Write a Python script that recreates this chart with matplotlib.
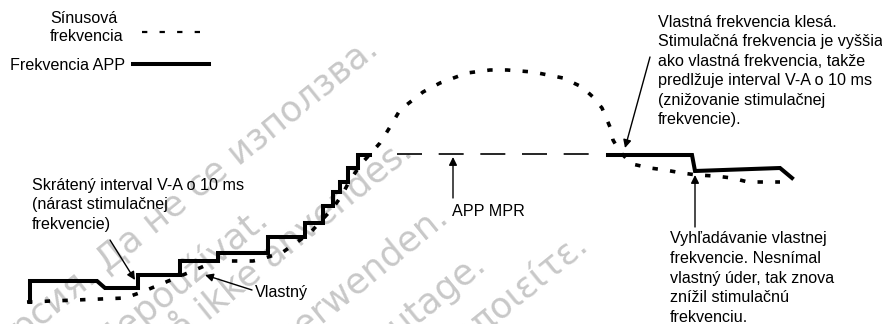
import matplotlib.pyplot as plt

# schematic drawn in image units (x to the right, y downwards)
W, H = 882, 324

# APP rate (solid staircase)
app_x = [30, 30, 97, 105, 138, 138, 180, 180, 218, 218, 268, 268, 305, 305, 323, 323,
         333, 333, 340, 340, 348, 348, 358, 358, 370]
app_y = [302, 281, 281, 288, 288, 275, 275, 261, 261, 253, 253, 237, 237, 223, 223, 206,
         206, 192, 192, 182, 182, 168, 168, 155, 155]
app2_x = [608, 692, 695, 780, 792]
app2_y = [155, 155, 171, 168, 178]

# sinus rate (dotted)
sinus_x = [27, 125, 142, 202, 215, 253, 262, 283, 310, 333, 342, 350, 362, 372, 380, 390,
           400, 423, 440, 467, 490, 507, 533, 563, 582, 593, 602, 610, 613, 620, 632, 650,
           665, 682, 697, 715, 732, 748, 780]
sinus_y = [302, 298, 292, 267, 261, 261, 259, 252, 233, 208, 195, 180, 163, 152, 143, 127,
           110, 92, 83, 73, 70, 70, 72, 78, 87, 97, 108, 127, 140, 152, 164, 168,
           170, 173, 175, 176, 178, 182, 182]

# APP MPR level (long dashes)
mpr_x = [397, 600]
mpr_y = [154, 154]

legend_sinus = "Sínusová\nfrekvencia"
legend_app = "Frekvencia APP"

notes = [
    ("Skrátený interval V-A o 10 ms\n(nárast stimulačnej\nfrekvencie)", (32, 205), (110, 240), (135, 280)),
    ("Vlastný", (255, 292), (252, 290), (205, 275)),
    ("APP MPR", (452, 212), (453, 198), (453, 157)),
    ("Vlastná frekvencia klesá.\nStimulačná frekvencia je vyššia\nako vlastná frekvencia, takže\n"
     "predlžuje interval V-A o 10 ms\n(znižovanie stimulačnej\nfrekvencie).", (658, 71), (650, 57), (625, 148)),
    ("Vyhľadávanie vlastnej\nfrekvencie. Nesnímal\nvlastný úder, tak znova\nznížil stimulačnú\nfrekvenciu.",
     (670, 278), (695, 227), (695, 175)),
]

# watermark lines, anchored at their end point
wm_texts = ["Остаряла версия. Да не се използва.", "Zastaralá verze. Nepoužívat.",
            "Forældet version. Må ikke anvendes.", "Veraltete Version. Nicht verwenden.",
            "Aegunud versioon. Ärge kasutage.", "Παλιά έκδοση. Μην την χρησιμοποιείτε."]
wm_ends = [(380, 52), (271, 223), (415, 155), (450, 220), (488, 268), (590, 249)]

plt.rcParams['font.family'] = ['Liberation Sans', 'DejaVu Sans']

fig = plt.figure(figsize=(W / 100, H / 100), dpi=100)
ax = fig.add_axes([0, 0, 1, 1])
ax.set_xlim(0, W)
ax.set_ylim(H, 0)
ax.axis('off')

for txt, (ex, ey) in zip(wm_texts, wm_ends):
    ax.text(ex, ey, txt, family='DejaVu Sans', fontsize=25.5, color='#c8c8c8',
            rotation=39, rotation_mode='anchor', ha='right', va='baseline', zorder=0)

ax.plot(app_x, app_y, color='black', lw=2.9, solid_joinstyle='miter', zorder=3)
ax.plot(app2_x, app2_y, color='black', lw=2.9, solid_joinstyle='miter', zorder=3)
ax.plot(sinus_x, sinus_y, color='black', lw=2.6, linestyle=(0, (1.5, 3.4)), zorder=4)
ax.plot(mpr_x, mpr_y, color='black', lw=1.2, linestyle=(0, (15, 10)), zorder=3)

# legend drawn by hand
ax.text(50, 27.5, legend_sinus, fontsize=11.6, va='center', ha='left', linespacing=1.3)
ax.plot([142, 212], [32, 32], color='black', lw=1.6, linestyle=(0, (2.4, 5.5)))
ax.text(10, 65, legend_app, fontsize=11.6, va='center', ha='left')
ax.plot([133, 209], [64, 64], color='black', lw=2.9)

for txt, (tx, ty), start, end in notes:
    ax.text(tx, ty, txt, fontsize=11.6, va='center', ha='left', linespacing=1.38)
    ax.annotate('', xy=end, xytext=start,
                arrowprops=dict(arrowstyle='-|>', color='black', lw=1.0,
                                mutation_scale=12, shrinkA=0, shrinkB=0))

fig.savefig('out.png', dpi=100)
